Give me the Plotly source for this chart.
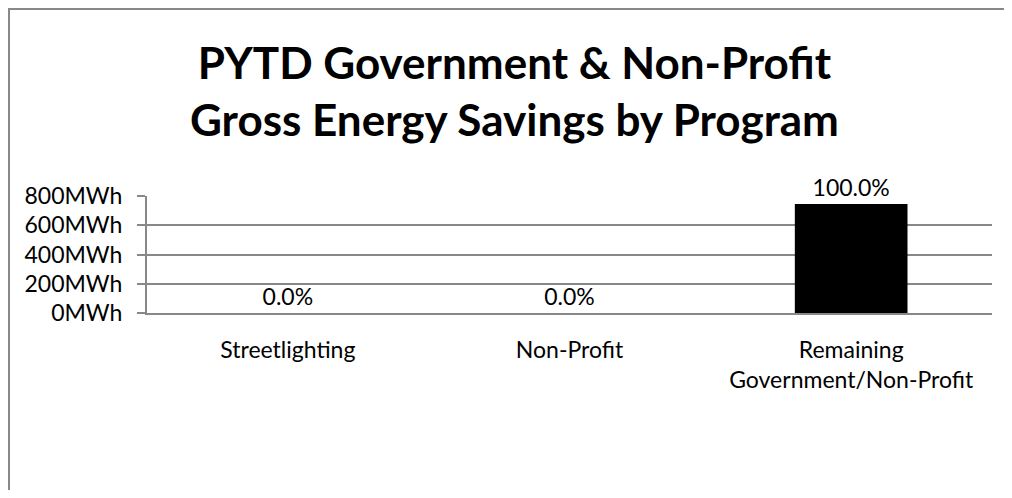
import plotly.graph_objects as go

categories = ["Streetlighting", "Non-Profit", "Remaining<br>Government/Non-Profit"]
savings_mwh = [0, 0, 745]
tick_values = [0, 200, 400, 600, 800]
tick_labels = ["0MWh", "200MWh", "400MWh", "600MWh", "800MWh"]
title_text = "<b>PYTD Government &amp; Non-Profit<br>Gross Energy Savings by Program</b>"

total = sum(savings_mwh)
pct_labels = [f"{v / total * 100:.1f}%" for v in savings_mwh]

# page body has an 8px margin, so figure coords = screen coords - 8;
# keep the figure small enough that the page does not overflow the window
W, H = 996, 482
L, R, T, B = 139, 12, 188, 177
pw, ph = W - L - R, H - T - B

FONT = "Lato, Carlito, Calibri, sans-serif"

fig = go.Figure(go.Bar(
    x=categories,
    y=savings_mwh,
    text=pct_labels,
    textposition="outside",
    cliponaxis=False,
    textfont=dict(family=FONT, size=23, color="#000000"),
    marker=dict(color="#000000", line=dict(width=0)),
    width=0.4,
))

def px2x(px):
    return (px - L) / pw

def py2y(py):
    return (H - B - py) / ph

fig.update_layout(
    width=W, height=H,
    margin=dict(l=L, r=R, t=T, b=B, pad=0),
    paper_bgcolor="white",
    plot_bgcolor="white",
    showlegend=False,
    font=dict(family=FONT, size=23, color="#000000"),
    xaxis=dict(
        showgrid=False,
        showline=True, linecolor="#888888", linewidth=2,
        ticks="", tickfont=dict(family=FONT, size=23),
        ticklabelstandoff=15,
        fixedrange=True,
    ),
    yaxis=dict(
        range=[0, 800],
        tickvals=tick_values,
        ticktext=tick_labels,
        showgrid=True, gridcolor="#888888", gridwidth=2,
        showline=True, linecolor="#888888", linewidth=2,
        ticks="outside", ticklen=8, tickcolor="#888888", tickwidth=2,
        tickfont=dict(family=FONT, size=23),
        ticklabelstandoff=10,
        zeroline=False,
        fixedrange=True,
    ),
    annotations=[dict(
        text=title_text, xref="paper", yref="paper",
        x=px2x(506), y=py2y(82), xanchor="center", yanchor="middle",
        showarrow=False, align="center",
        font=dict(family=FONT, size=44, color="#000000"),
    )],
    shapes=[
        dict(type="line", xref="paper", yref="paper",
             x0=px2x(1), x1=px2x(1), y0=py2y(H + 10), y1=py2y(0),
             line=dict(color="#888888", width=2), layer="below"),
        dict(type="line", xref="paper", yref="paper",
             x0=px2x(0), x1=px2x(W + 10), y0=py2y(1), y1=py2y(1),
             line=dict(color="#888888", width=2), layer="below"),
    ],
)

fig.write_html("out.html")
